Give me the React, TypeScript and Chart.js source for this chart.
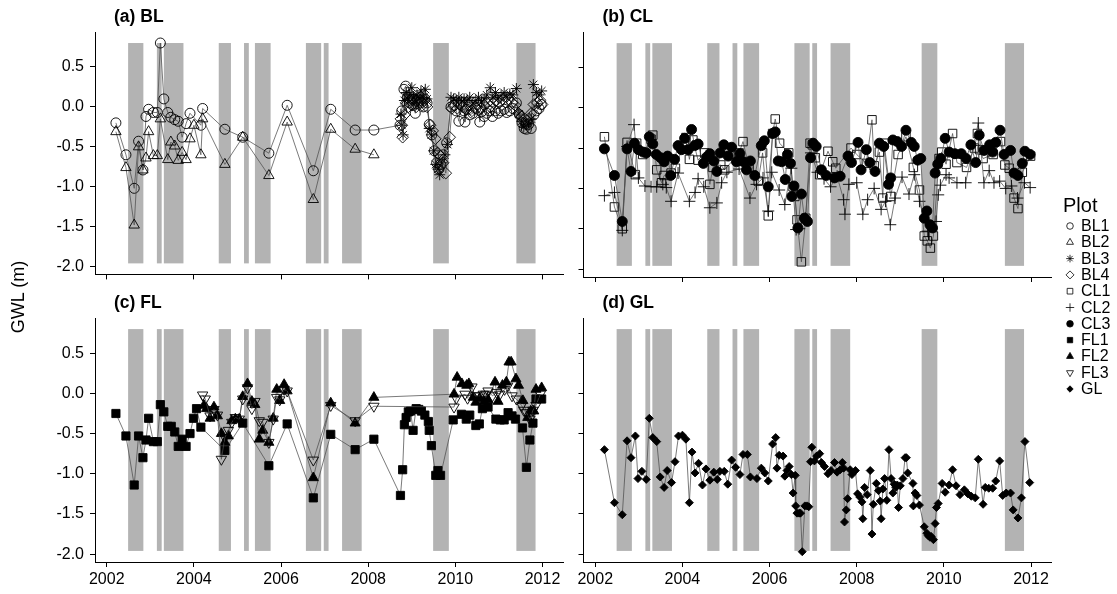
import React, { useEffect, useRef } from 'react';
import { Chart, registerables } from 'chart.js';
import { drawPoint } from 'chart.js/helpers';

Chart.register(...registerables);

type P = [number, number];

const X_TICKS = [2002, 2004, 2006, 2008, 2010, 2012];
const Y_TICKS = [-2, -1.5, -1, -0.5, 0, 0.5];
const X_MIN = 2001.73;
const X_MAX = 2012.47;
const Y_MIN = -2.098;
const Y_MAX = 0.938;
const SHADE_TOP = 0.8;
const SHADE_BOTTOM = -1.96;
const DRY_START = [2002.49, 2003.15, 2003.31, 2004.57, 2005.15, 2005.4, 2006.57, 2006.98, 2007.4, 2009.49, 2011.4];
const DRY_END = [2002.84, 2003.26, 2003.76, 2004.85, 2005.26, 2005.76, 2006.92, 2007.09, 2007.85, 2009.85, 2011.84];

const BL1: P[] = [
  [2002.21, -0.2], [2002.44, -0.6], [2002.63, -1.02], [2002.73, -0.43], [2002.83, -0.79], [2002.9, -0.12],
  [2002.96, -0.03], [2003.07, -0.07], [2003.16, -0.07], [2003.23, 0.8], [2003.31, 0.1], [2003.4, -0.07],
  [2003.47, -0.13], [2003.56, -0.16], [2003.64, -0.18], [2003.73, -0.38], [2003.82, -0.21], [2003.91, -0.08],
  [2004.16, -0.23], [2004.2, -0.02], [2004.71, -0.28], [2005.12, -0.38], [2005.72, -0.58], [2006.14, 0.02],
  [2006.74, -0.8], [2007.14, -0.03], [2007.7, -0.29], [2008.13, -0.29],
  [2008.73, -0.23], [2008.77, -0.05], [2008.82, 0.22], [2008.86, 0.26], [2008.9, 0.12], [2008.95, 0.05],
  [2009.0, 0.1], [2009.04, 0.02], [2009.08, -0.08], [2009.12, 0.08], [2009.17, 0.12], [2009.21, 0.05],
  [2009.26, 0.0], [2009.3, 0.1], [2009.35, 0.05], [2009.4, -0.22], [2009.46, -0.35], [2009.52, -0.55],
  [2009.57, -0.7], [2009.62, -0.78], [2009.66, -0.72], [2009.72, -0.6], [2009.8, -0.45], [2009.9, 0.0],
  [2009.96, 0.02], [2010.02, -0.05], [2010.08, -0.18], [2010.14, 0.02], [2010.2, -0.05], [2010.22, -0.19],
  [2010.27, -0.03], [2010.33, -0.1], [2010.4, -0.08], [2010.47, -0.02], [2010.53, -0.04], [2010.56, -0.19],
  [2010.6, -0.06], [2010.66, -0.12], [2010.72, -0.08], [2010.78, -0.05], [2010.85, -0.12], [2010.92, -0.05],
  [2010.98, -0.08], [2011.05, -0.05], [2011.12, -0.03], [2011.18, -0.07], [2011.25, -0.05], [2011.32, -0.02],
  [2011.4, 0.05], [2011.47, -0.1], [2011.53, -0.2], [2011.58, -0.27], [2011.63, -0.28], [2011.68, -0.22],
  [2011.74, -0.27], [2011.8, -0.1], [2011.86, -0.05], [2011.92, -0.02], [2011.97, 0.03],
];

const BL2: P[] = [
  [2002.21, -0.31], [2002.44, -0.76], [2002.63, -1.48], [2002.73, -0.5], [2002.83, -0.79], [2002.9, -0.64],
  [2002.96, -0.31], [2003.07, -0.61], [2003.16, -0.61], [2003.23, -0.15], [2003.4, -0.66], [2003.47, -0.44],
  [2003.56, -0.49], [2003.64, -0.67], [2003.73, -0.57], [2003.82, -0.66], [2003.91, -0.4], [2004.0, -0.23],
  [2004.16, -0.6], [2004.2, -0.15], [2004.71, -0.72], [2005.12, -0.38], [2005.72, -0.86], [2006.14, -0.19],
  [2006.74, -1.16], [2007.14, -0.28], [2007.7, -0.53], [2008.13, -0.6],
];

const BL3: P[] = [
  [2008.75, -0.09], [2008.77, -0.23], [2008.8, -0.35], [2008.83, 0.08], [2008.87, 0.18], [2008.91, 0.1],
  [2008.95, 0.15], [2009.0, 0.24], [2009.04, 0.12], [2009.08, 0.05], [2009.12, 0.15], [2009.17, 0.1],
  [2009.21, 0.2], [2009.26, 0.12], [2009.31, 0.22], [2009.35, 0.1], [2009.4, -0.27], [2009.45, -0.35],
  [2009.5, -0.55], [2009.55, -0.72], [2009.6, -0.78], [2009.64, -0.85], [2009.7, -0.7], [2009.76, -0.6],
  [2009.82, -0.47], [2009.9, 0.12], [2009.96, 0.1], [2010.02, 0.08], [2010.08, 0.12], [2010.14, 0.06],
  [2010.2, 0.1], [2010.27, 0.08], [2010.33, 0.12], [2010.4, 0.05], [2010.47, 0.08], [2010.53, 0.12],
  [2010.6, 0.06], [2010.66, 0.1], [2010.72, 0.15], [2010.8, 0.24], [2010.86, 0.12], [2010.92, 0.18],
  [2010.98, 0.1], [2011.05, 0.14], [2011.12, 0.18], [2011.18, 0.12], [2011.25, 0.16], [2011.32, 0.15],
  [2011.4, 0.23], [2011.46, -0.09], [2011.52, -0.18], [2011.57, -0.25], [2011.62, -0.22], [2011.68, -0.2],
  [2011.74, -0.15], [2011.79, 0.28], [2011.86, 0.18], [2011.92, 0.15], [2011.98, 0.2],
];

const BL4: P[] = [
  [2008.75, -0.15], [2008.77, -0.23], [2008.79, -0.38], [2008.83, -0.1], [2008.87, 0.05], [2008.92, 0.0],
  [2008.96, 0.08], [2009.0, 0.02], [2009.05, 0.1], [2009.1, 0.0], [2009.14, 0.05], [2009.19, 0.08],
  [2009.24, 0.02], [2009.29, 0.08], [2009.35, 0.0], [2009.42, -0.23], [2009.48, -0.3], [2009.54, -0.4],
  [2009.6, -0.58], [2009.66, -0.62], [2009.72, -0.7], [2009.78, -0.83], [2009.87, -0.38], [2009.92, -0.02],
  [2009.98, 0.02], [2010.04, -0.02], [2010.1, 0.03], [2010.17, 0.0], [2010.24, -0.03], [2010.31, 0.02],
  [2010.38, -0.05], [2010.45, 0.0], [2010.52, 0.03], [2010.59, -0.02], [2010.66, 0.02], [2010.73, 0.05],
  [2010.8, 0.0], [2010.87, 0.05], [2010.94, 0.08], [2011.01, 0.05], [2011.08, 0.1], [2011.15, 0.06],
  [2011.22, 0.1], [2011.3, 0.05], [2011.37, 0.02], [2011.45, -0.08], [2011.51, -0.12], [2011.55, -0.17],
  [2011.62, -0.22], [2011.68, -0.15], [2011.74, -0.08], [2011.8, 0.03], [2011.88, 0.05], [2011.95, 0.08],
  [2011.99, 0.03],
];

const CL1: P[] = [
  [2002.21, -0.36], [2002.44, -1.23], [2002.62, -1.5], [2002.73, -0.43], [2002.92, -0.83], [2002.95, -0.44],
  [2003.09, -0.58], [2003.28, -0.39], [2003.32, -0.34], [2003.41, -0.77], [2003.52, -0.93], [2003.58, -0.84],
  [2003.74, -0.81], [2003.84, -0.75], [2004.08, -0.37], [2004.16, -0.64], [2004.24, -0.4], [2004.36, -0.65],
  [2004.51, -0.56], [2004.63, -0.95], [2004.7, -0.74], [2004.88, -0.71], [2004.97, -0.77], [2005.3, -0.56],
  [2005.39, -0.42], [2005.53, -0.74], [2005.74, -0.91], [2005.84, -0.56], [2005.97, -1.34], [2006.07, -0.32],
  [2006.13, -0.14], [2006.23, -0.44], [2006.44, -0.56], [2006.54, -0.98], [2006.58, -1.1], [2006.63, -1.39],
  [2006.73, -1.91], [2006.83, -1.37], [2006.93, -0.44], [2006.98, -0.46], [2007.05, -0.62], [2007.15, -0.83],
  [2007.34, -0.54], [2007.45, -0.67], [2007.52, -0.75], [2007.87, -0.5], [2008.0, -0.58], [2008.22, -0.69],
  [2008.35, -0.15], [2008.4, -0.72], [2008.52, -0.55], [2008.6, -1.12], [2008.63, -0.44], [2008.78, -1.1],
  [2008.95, -0.58], [2009.13, -0.36], [2009.3, -0.74], [2009.44, -1.02], [2009.55, -1.59], [2009.62, -1.65],
  [2009.69, -1.74], [2009.76, -1.59], [2009.89, -0.63], [2009.95, -0.55], [2010.05, -0.7], [2010.2, -0.32],
  [2010.3, -0.68], [2010.52, -0.74], [2010.7, -0.5], [2010.77, -0.32], [2010.82, -0.52], [2010.9, -0.63],
  [2011.13, -0.58], [2011.3, -0.42], [2011.4, -0.71], [2011.5, -0.75], [2011.61, -1.12], [2011.7, -1.25],
  [2011.8, -0.8], [2011.99, -0.6],
];

const CL2: P[] = [
  [2002.21, -1.09], [2002.44, -1.05], [2002.62, -1.52], [2002.73, -0.48], [2002.89, -0.21], [2002.99, -0.87],
  [2003.14, -0.97], [2003.28, -0.98], [2003.41, -0.98], [2003.55, -0.95], [2003.63, -0.99], [2003.74, -1.16],
  [2003.9, -0.81], [2004.16, -1.16], [2004.29, -1.05], [2004.36, -0.88], [2004.49, -0.98], [2004.63, -1.24],
  [2004.79, -1.18], [2004.9, -0.93], [2005.02, -0.8], [2005.3, -0.76], [2005.55, -1.12], [2005.7, -0.95],
  [2005.85, -0.87], [2005.97, -1.28], [2006.05, -0.8], [2006.22, -1.02], [2006.35, -1.2], [2006.5, -0.75],
  [2006.61, -1.51], [2006.68, -1.5], [2006.82, -1.37], [2006.95, -0.56], [2007.1, -0.8], [2007.25, -0.88],
  [2007.4, -0.98], [2007.55, -0.85], [2007.7, -1.14], [2007.73, -1.32], [2007.82, -0.95], [2008.0, -0.93],
  [2008.14, -1.32], [2008.25, -1.14], [2008.4, -1.0], [2008.56, -1.26], [2008.66, -1.16], [2008.77, -1.45],
  [2008.88, -1.12], [2009.04, -0.86], [2009.2, -1.07], [2009.32, -0.83], [2009.44, -1.16], [2009.63, -1.53],
  [2009.82, -1.41], [2009.87, -1.08], [2009.92, -0.96], [2010.05, -0.83], [2010.12, -0.87], [2010.3, -0.93],
  [2010.5, -0.93], [2010.79, -0.19], [2010.92, -0.93], [2011.04, -0.78], [2011.15, -0.93], [2011.28, -0.91],
  [2011.42, -1.0], [2011.55, -0.97], [2011.69, -1.12], [2011.85, -0.93], [2011.98, -0.99],
];

const CL3: P[] = [
  [2002.21, -0.51], [2002.44, -0.84], [2002.62, -1.41], [2002.73, -0.51], [2002.82, -0.79], [2002.9, -0.44],
  [2002.99, -0.52], [2003.1, -0.55], [2003.17, -0.56], [2003.24, -0.36], [2003.32, -0.45], [2003.4, -0.58],
  [2003.5, -0.62], [2003.58, -0.67], [2003.66, -0.6], [2003.73, -0.84], [2003.82, -0.64], [2003.9, -0.47],
  [2003.98, -0.52], [2004.05, -0.38], [2004.13, -0.52], [2004.21, -0.27], [2004.28, -0.47], [2004.36, -0.45],
  [2004.48, -0.69], [2004.56, -0.61], [2004.63, -0.57], [2004.72, -0.66], [2004.79, -0.79], [2004.87, -0.56],
  [2004.95, -0.46], [2005.05, -0.6], [2005.13, -0.49], [2005.24, -0.67], [2005.32, -0.57], [2005.4, -0.67],
  [2005.47, -0.77], [2005.56, -0.66], [2005.66, -0.84], [2005.81, -0.47], [2005.88, -0.41], [2005.97, -0.98],
  [2006.07, -0.32], [2006.13, -0.3], [2006.2, -0.66], [2006.28, -0.67], [2006.36, -0.89], [2006.41, -0.58],
  [2006.48, -0.69], [2006.51, -1.1], [2006.56, -0.97], [2006.65, -1.49], [2006.73, -1.07], [2006.8, -1.37],
  [2006.87, -1.41], [2006.94, -0.62], [2007.0, -0.44], [2007.07, -0.48], [2007.19, -0.77], [2007.3, -0.84],
  [2007.49, -0.87], [2007.62, -0.85], [2007.8, -0.6], [2007.88, -0.68], [2008.03, -0.43], [2008.1, -0.77],
  [2008.22, -0.52], [2008.3, -0.68], [2008.42, -0.79], [2008.52, -0.44], [2008.62, -0.48], [2008.73, -0.95],
  [2008.78, -0.87], [2008.83, -0.4], [2008.93, -0.42], [2009.03, -0.48], [2009.13, -0.28], [2009.25, -0.43],
  [2009.32, -0.48], [2009.4, -0.65], [2009.47, -0.63], [2009.55, -1.37], [2009.61, -1.28], [2009.68, -1.45],
  [2009.74, -1.49], [2009.8, -0.81], [2009.86, -0.7], [2009.93, -0.63], [2010.03, -0.38], [2010.12, -0.55],
  [2010.25, -0.57], [2010.4, -0.57], [2010.51, -0.63], [2010.62, -0.46], [2010.73, -0.68], [2010.81, -0.34],
  [2010.92, -0.53], [2011.05, -0.46], [2011.12, -0.55], [2011.19, -0.43], [2011.29, -0.28], [2011.38, -0.58],
  [2011.53, -0.53], [2011.61, -0.81], [2011.7, -0.84], [2011.8, -0.69], [2011.86, -0.54], [2011.98, -0.58],
];

const FL1: P[] = [
  [2002.21, -0.25], [2002.44, -0.53], [2002.63, -1.14], [2002.73, -0.53], [2002.83, -0.8], [2002.9, -0.58],
  [2002.96, -0.31], [2003.07, -0.6], [2003.16, -0.6], [2003.23, -0.14], [2003.31, -0.23], [2003.4, -0.41],
  [2003.48, -0.41], [2003.56, -0.48], [2003.64, -0.66], [2003.73, -0.57], [2003.82, -0.66], [2003.91, -0.5],
  [2003.99, -0.31], [2004.06, -0.19], [2004.16, -0.42], [2004.71, -0.71], [2005.12, -0.37], [2005.72, -0.9],
  [2006.14, -0.38], [2006.74, -1.3], [2007.14, -0.51], [2007.7, -0.7], [2008.13, -0.57],
  [2008.74, -1.27], [2008.79, -0.95], [2008.83, -0.39], [2008.87, -0.3], [2008.92, -0.23], [2008.97, -0.22],
  [2009.03, -0.46], [2009.1, -0.19], [2009.16, -0.2], [2009.22, -0.22], [2009.3, -0.27], [2009.38, -0.35],
  [2009.4, -0.46], [2009.45, -0.65], [2009.55, -1.02], [2009.6, -0.96], [2009.66, -1.02], [2009.95, -0.33],
  [2010.14, -0.26], [2010.25, -0.32], [2010.33, -0.27], [2010.47, -0.4], [2010.55, -0.38], [2010.62, -0.19],
  [2010.75, -0.17], [2010.93, -0.32], [2011.03, -0.33], [2011.12, -0.33], [2011.21, -0.24], [2011.3, -0.28],
  [2011.38, -0.32], [2011.54, -0.43], [2011.63, -0.92], [2011.71, -0.58], [2011.78, -0.37], [2011.85, -0.07],
  [2011.98, -0.07],
];

const FL2: P[] = [
  [2004.23, -0.15], [2004.29, -0.19], [2004.37, -0.31], [2004.46, -0.17], [2004.54, -0.28], [2004.63, -0.5],
  [2004.71, -0.61], [2004.79, -0.53], [2004.87, -0.34], [2004.95, -0.32], [2005.04, -0.32], [2005.12, -0.04],
  [2005.23, 0.12], [2005.33, -0.1], [2005.4, -0.14], [2005.5, -0.57], [2005.58, -0.46], [2005.72, -0.61],
  [2005.82, -0.31], [2005.9, 0.05], [2005.97, -0.09], [2006.07, 0.11], [2006.14, 0.03], [2006.74, -1.05],
  [2007.14, -0.12], [2007.7, -0.37], [2008.13, -0.05], [2009.97, -0.01], [2010.04, 0.2], [2010.15, 0.12],
  [2010.26, 0.1], [2010.31, 0.12], [2010.41, -0.05], [2010.47, -0.11], [2010.56, -0.06], [2010.66, -0.1],
  [2010.75, -0.08], [2010.91, 0.14], [2010.98, -0.1], [2011.08, 0.1], [2011.17, 0.14], [2011.23, 0.39],
  [2011.28, 0.39], [2011.39, 0.18], [2011.45, 0.1], [2011.55, -0.09], [2011.66, -0.3], [2011.73, -0.22],
  [2011.8, -0.22], [2011.85, 0.05], [2011.98, 0.07],
];

const FL3: P[] = [
  [2004.2, -0.02], [2004.26, -0.07], [2004.37, -0.28], [2004.46, -0.2], [2004.54, -0.27], [2004.63, -0.82],
  [2004.71, -0.55], [2004.79, -0.46], [2004.87, -0.36], [2004.95, -0.3], [2005.04, -0.32], [2005.12, -0.07],
  [2005.23, 0.07], [2005.33, -0.19], [2005.4, -0.1], [2005.5, -0.34], [2005.58, -0.36], [2005.72, -0.61],
  [2005.82, -0.32], [2005.9, -0.05], [2005.97, -0.08], [2006.07, 0.05], [2006.14, 0.03], [2006.74, -0.83],
  [2007.14, -0.15], [2007.7, -0.34], [2008.13, -0.16], [2009.97, -0.17], [2010.02, -0.06], [2010.22, -0.01],
  [2010.28, -0.06], [2010.38, 0.08], [2010.45, -0.03], [2010.56, -0.03], [2010.64, -0.01], [2010.7, -0.01],
  [2010.75, 0.03], [2010.85, -0.03], [2010.95, 0.01], [2011.02, -0.01], [2011.13, 0.05], [2011.2, 0.09],
  [2011.3, -0.03], [2011.4, -0.07], [2011.52, -0.15], [2011.57, -0.21], [2011.63, -0.24], [2011.71, -0.32],
  [2011.78, -0.21], [2011.85, -0.15], [2011.95, -0.01],
];

const GL: P[] = [
  [2002.21, -0.7], [2002.44, -1.36], [2002.62, -1.51], [2002.73, -0.59], [2002.82, -0.8], [2002.92, -0.53],
  [2002.98, -1.06], [2003.07, -0.97], [2003.17, -1.07], [2003.24, -0.31], [2003.32, -0.55], [2003.41, -0.6],
  [2003.49, -1.04], [2003.58, -1.17], [2003.65, -0.96], [2003.75, -1.11], [2003.83, -0.85], [2003.91, -0.53],
  [2004.0, -0.52], [2004.08, -0.57], [2004.16, -1.36], [2004.22, -0.73], [2004.29, -0.99], [2004.37, -0.87],
  [2004.46, -1.14], [2004.54, -0.94], [2004.63, -1.08], [2004.72, -0.98], [2004.8, -1.07], [2004.86, -0.97],
  [2004.96, -0.97], [2005.04, -1.13], [2005.13, -0.83], [2005.22, -0.92], [2005.32, -1.01], [2005.39, -0.76],
  [2005.49, -0.76], [2005.56, -1.04], [2005.71, -1.06], [2005.81, -0.93], [2005.89, -0.99], [2005.97, -1.09],
  [2006.07, -0.63], [2006.14, -0.55], [2006.17, -0.93], [2006.22, -0.77], [2006.31, -0.78], [2006.35, -1.03],
  [2006.4, -0.96], [2006.45, -0.91], [2006.5, -1.01], [2006.54, -1.24], [2006.59, -1.02], [2006.6, -1.4],
  [2006.63, -1.49], [2006.68, -1.49], [2006.71, -1.49], [2006.75, -1.97], [2006.81, -1.4], [2006.86, -1.4],
  [2006.9, -1.41], [2006.94, -0.85], [2006.97, -0.67], [2007.03, -0.84], [2007.08, -0.78], [2007.15, -0.75],
  [2007.19, -0.86], [2007.26, -0.91], [2007.34, -1.0], [2007.41, -0.96], [2007.49, -0.86], [2007.55, -0.98],
  [2007.62, -0.95], [2007.67, -0.86], [2007.7, -0.93], [2007.72, -1.6], [2007.76, -1.45], [2007.79, -1.31],
  [2007.85, -0.95], [2007.89, -1.01], [2007.97, -0.96], [2008.02, -1.25], [2008.07, -1.29], [2008.12, -1.35],
  [2008.14, -1.56], [2008.18, -1.17], [2008.24, -1.26], [2008.31, -0.96], [2008.35, -1.75], [2008.38, -1.38],
  [2008.45, -1.12], [2008.5, -1.21], [2008.54, -1.34], [2008.56, -1.56], [2008.6, -1.19], [2008.64, -1.06],
  [2008.69, -1.33], [2008.74, -0.7], [2008.79, -1.06], [2008.83, -1.24], [2008.86, -1.13], [2008.9, -1.17],
  [2008.93, -1.14], [2008.96, -1.42], [2009.0, -1.15], [2009.06, -1.06], [2009.11, -0.8], [2009.14, -0.8],
  [2009.17, -0.99], [2009.29, -1.12], [2009.3, -1.4], [2009.34, -1.24], [2009.38, -1.27], [2009.44, -1.39],
  [2009.55, -1.66], [2009.61, -1.74], [2009.64, -1.77], [2009.68, -1.79], [2009.71, -1.78], [2009.76, -1.82],
  [2009.8, -1.62], [2009.83, -1.42], [2009.87, -1.37], [2009.96, -1.12], [2010.03, -1.23], [2010.12, -1.14],
  [2010.2, -0.95], [2010.28, -1.15], [2010.37, -1.26], [2010.47, -1.2], [2010.55, -1.25], [2010.63, -1.28],
  [2010.72, -1.3], [2010.79, -0.82], [2010.9, -1.38], [2010.95, -1.17], [2011.03, -1.18], [2011.12, -1.18],
  [2011.19, -1.09], [2011.28, -0.84], [2011.35, -1.27], [2011.43, -1.24], [2011.53, -1.24], [2011.59, -1.45],
  [2011.7, -1.55], [2011.78, -1.3], [2011.86, -0.6], [2011.97, -1.11],
];

const SERIES: Record<string, P[]> = { BL1, BL2, BL3, BL4, CL1, CL2, CL3, FL1, FL2, FL3, GL };
const LEGEND_NAMES = ['BL1', 'BL2', 'BL3', 'BL4', 'CL1', 'CL2', 'CL3', 'FL1', 'FL2', 'FL3', 'GL'];

const FONT = '"Liberation Sans", Arial, Helvetica, sans-serif';
const SHADE_COLOR = '#b3b3b3';
const LINE_COLOR = '#4d4d4d';

type Sty = { style: string; r: number; filled: boolean; rot: number; lr: number };
const STYLES: Record<string, Sty> = {
  BL1: { style: 'circle', r: 5, filled: false, rot: 0, lr: 3.3 },
  BL2: { style: 'triangle', r: 6, filled: false, rot: 0, lr: 4 },
  BL3: { style: 'star', r: 5.5, filled: false, rot: 0, lr: 3.8 },
  BL4: { style: 'rectRot', r: 5.8, filled: false, rot: 0, lr: 4 },
  CL1: { style: 'rect', r: 6, filled: false, rot: 0, lr: 4 },
  CL2: { style: 'cross', r: 6, filled: false, rot: 0, lr: 4.2 },
  CL3: { style: 'circle', r: 5, filled: true, rot: 0, lr: 3.3 },
  FL1: { style: 'rect', r: 5.8, filled: true, rot: 0, lr: 3.8 },
  FL2: { style: 'triangle', r: 5.8, filled: true, rot: 0, lr: 4 },
  FL3: { style: 'triangle', r: 6, filled: false, rot: 180, lr: 4 },
  GL: { style: 'rectRot', r: 4, filled: true, rot: 0, lr: 3.2 },
};

const PANELS = [
  { title: '(a) BL', series: ['BL1', 'BL2', 'BL3', 'BL4'], left: 0, top: 0, width: 570, height: 290, padTop: 32, padRight: 7, yW: 95, xH: 13, yLab: true, xLab: false },
  { title: '(b) CL', series: ['CL1', 'CL2', 'CL3'], left: 570, top: 0, width: 547, height: 290, padTop: 32, padRight: 65.5, yW: 13.5, xH: 13, yLab: false, xLab: false },
  { title: '(c) FL', series: ['FL1', 'FL2', 'FL3'], left: 0, top: 290, width: 570, height: 304, padTop: 28, padRight: 7, yW: 95, xH: 32, yLab: true, xLab: true },
  { title: '(d) GL', series: ['GL'], left: 570, top: 290, width: 547, height: 304, padTop: 28, padRight: 65.5, yW: 13.5, xH: 32, yLab: false, xLab: true },
];

const shadePlugin = {
  id: 'shade',
  beforeDatasetsDraw(chart: any) {
    const { ctx } = chart;
    const xs = chart.scales.x;
    const ys = chart.scales.y;
    const yt = ys.getPixelForValue(SHADE_TOP);
    const yb = ys.getPixelForValue(SHADE_BOTTOM);
    ctx.save();
    ctx.fillStyle = SHADE_COLOR;
    DRY_START.forEach((s, i) => {
      const x1 = xs.getPixelForValue(s);
      const x2 = xs.getPixelForValue(DRY_END[i]);
      ctx.fillRect(x1, yt, x2 - x1, yb - yt);
    });
    ctx.restore();
  },
};

function makeTitlePlugin(text: string) {
  return {
    id: 'panelTitle',
    afterDraw(chart: any) {
      const { ctx, chartArea } = chart;
      ctx.save();
      ctx.fillStyle = '#000';
      ctx.font = `bold 17.5px ${FONT}`;
      ctx.textBaseline = 'middle';
      ctx.textAlign = 'left';
      ctx.fillText(text, chartArea.left + 19, chartArea.top - 15);
      ctx.restore();
    },
  };
}

function axisCommon() {
  return {
    grid: { drawOnChartArea: false, drawTicks: true, tickLength: 5, color: '#000', lineWidth: 1 },
    border: { display: true, color: '#000', width: 1 },
  };
}

export default function App() {
  const refs = useRef<(HTMLCanvasElement | null)[]>([]);
  const legendRef = useRef<HTMLCanvasElement | null>(null);

  useEffect(() => {
    const charts: Chart[] = [];
    PANELS.forEach((p, idx) => {
      const canvas = refs.current[idx];
      if (!canvas) return;
      const datasets = p.series
        .map((name) => {
          const st = STYLES[name];
          return {
            label: name,
            data: SERIES[name].map(([x, y]) => ({ x, y })),
            showLine: true,
            borderColor: LINE_COLOR,
            borderWidth: 0.75,
            tension: 0,
            pointStyle: st.style,
            pointRadius: st.r,
            pointRotation: st.rot,
            pointBackgroundColor: st.filled ? '#000' : 'rgba(0,0,0,0)',
            pointBorderColor: '#000',
            pointBorderWidth: 0.9,
          };
        })
        .reverse();
      const chart = new Chart(canvas, {
        type: 'scatter',
        data: { datasets } as any,
        options: {
          animation: false,
          responsive: false,
          events: [],
          layout: { padding: { left: 0, top: p.padTop, right: p.padRight, bottom: 0 } },
          plugins: { legend: { display: false }, tooltip: { enabled: false }, title: { display: false } },
          scales: {
            x: {
              type: 'linear',
              min: X_MIN,
              max: X_MAX,
              ...axisCommon(),
              afterBuildTicks: (s: any) => {
                s.ticks = X_TICKS.map((v) => ({ value: v }));
              },
              afterFit: (s: any) => {
                s.height = p.xH;
              },
              ticks: {
                display: p.xLab,
                color: '#000',
                padding: 3,
                maxRotation: 0,
                autoSkip: false,
                font: { family: FONT, size: 16 },
                callback: (v: any) => String(v),
              },
            },
            y: {
              type: 'linear',
              min: Y_MIN,
              max: Y_MAX,
              ...axisCommon(),
              afterBuildTicks: (s: any) => {
                s.ticks = Y_TICKS.map((v) => ({ value: v }));
              },
              afterFit: (s: any) => {
                s.width = p.yW;
              },
              ticks: {
                display: p.yLab,
                color: '#000',
                padding: 6,
                autoSkip: false,
                font: { family: FONT, size: 16 },
                callback: (v: any) => Number(v).toFixed(1),
              },
            },
          },
        } as any,
        plugins: [shadePlugin, makeTitlePlugin(p.title)],
      });
      charts.push(chart);
    });

    const lc = legendRef.current;
    if (lc) {
      const ctx = lc.getContext('2d');
      if (ctx) {
        ctx.clearRect(0, 0, lc.width, lc.height);
        LEGEND_NAMES.forEach((name, i) => {
          const st = STYLES[name];
          ctx.save();
          ctx.strokeStyle = '#000';
          ctx.fillStyle = st.filled ? '#000' : 'rgba(0,0,0,0)';
          ctx.lineWidth = 0.8;
          drawPoint(ctx, { pointStyle: st.style, rotation: st.rot, radius: st.lr, borderWidth: 0.8 } as any, 12, 36 + i * 16.3);
          ctx.restore();
        });
      }
    }
    return () => {
      charts.forEach((c) => c.destroy());
    };
  }, []);

  return (
    <div style={{ position: 'absolute', left: 0, top: 0, width: 1117, height: 594, background: '#fff', fontFamily: FONT, overflow: 'hidden' }}>
      {PANELS.map((p, i) => (
        <canvas
          key={p.title}
          ref={(el) => {
            refs.current[i] = el;
          }}
          width={p.width}
          height={p.height}
          style={{ position: 'absolute', left: p.left, top: p.top, width: p.width, height: p.height }}
        />
      ))}
      <div
        style={{
          position: 'absolute',
          left: 18 - 100,
          top: 297 - 11,
          width: 200,
          height: 22,
          lineHeight: '22px',
          textAlign: 'center',
          fontSize: 18,
          color: '#000',
          transform: 'rotate(-90deg)',
          transformOrigin: '50% 50%',
        }}
      >
        GWL (m)
      </div>
      <canvas ref={legendRef} width={59} height={210} style={{ position: 'absolute', left: 1058, top: 190, width: 59, height: 210 }} />
      <div style={{ position: 'absolute', left: 1063, top: 195, fontSize: 20, lineHeight: '20px', color: '#000' }}>Plot</div>
      {LEGEND_NAMES.map((name, i) => (
        <div
          key={name}
          style={{ position: 'absolute', left: 1081, top: 226 + i * 16.3 - 8, fontSize: 16, lineHeight: '16px', color: '#000' }}
        >
          {name}
        </div>
      ))}
    </div>
  );
}
